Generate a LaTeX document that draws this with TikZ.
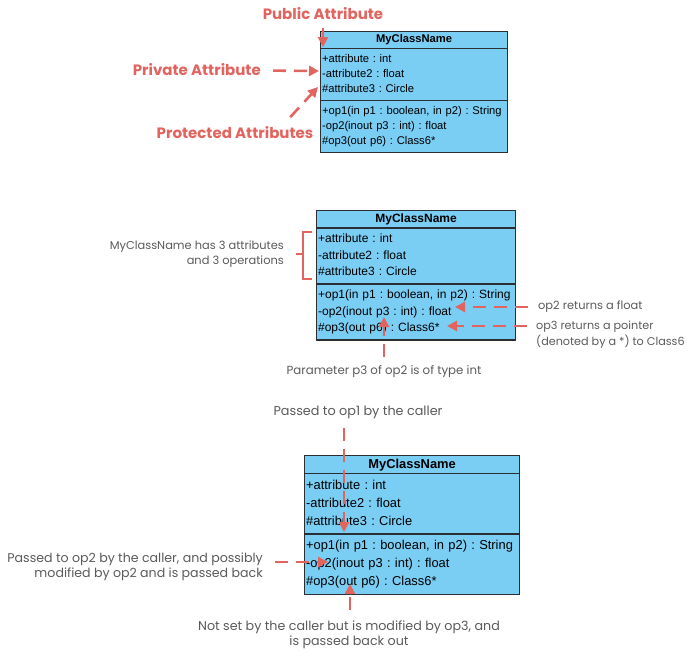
\documentclass[tikz,border=0pt]{standalone}
\usepackage{fontspec}
\setmainfont{Poppins}
\newfontfamily\umlfont{Liberation Sans}
\usetikzlibrary{arrows.meta, positioning, shapes.multipart, calc}
\definecolor{classfill}{HTML}{7ACDF3}
\definecolor{classline}{HTML}{2A2F33}
\definecolor{notered}{HTML}{E1645F}
\definecolor{notegray}{HTML}{5A5A5A}
\newcommand{\classhead}{\hbox to\hsize{\hss\textbf{MyClassName}\hss}}

\begin{document}
\begin{tikzpicture}[
  x=1pt, y=-1pt,
  umlclass/.style={draw=classline, fill=classfill, line width=1.2pt,
    rectangle split, rectangle split parts=3, anchor=north west,
    align=left, inner xsep=1.5pt, inner ysep=2.5pt},
  heading/.style={text=notered, font=\bfseries\fontsize{15}{18}\selectfont, inner sep=0pt},
  remark/.style={text=notegray, inner sep=0pt},
  pointer/.style={notered, line width=2.6pt, dash pattern=on 13pt off 8pt,
    -{Triangle[length=10pt,width=10pt]}}
]
\useasboundingbox (0,0) rectangle (697,653);

% visibility
\node[umlclass, text width=184pt, font=\umlfont\fontsize{11.2}{15.3}\selectfont\frenchspacing] (clsA) at (320,31)
  {\classhead
   \nodepart{two}\strut+attribute : int\\-attribute2 : float\\\#attribute3 : Circle\strut
   \nodepart{three}\strut+op1(in p1 : boolean, in p2) : String\\-op2(inout p3 : int) : float\\\#op3(out p6) : Class6*\strut\par\vspace{4pt}};
\node[heading] (pubA) at (323,14) {Public Attribute};
\node[heading, anchor=east] (privA) at (261,70) {Private Attribute};
\node[heading] (protA) at (235,133) {Protected Attributes};
\coordinate (pubTip) at (323,47);
\coordinate (privTip) at (319,71);
\coordinate (protTip) at (318,87);
\draw[pointer, solid, shorten <=7.5pt] (pubA) -- (pubTip);
\draw[pointer, shorten <=12pt] (privA) -- (privTip);
\draw[pointer, shorten <=13pt] ([xshift=46.4pt]protA.north) -- (protTip);

% operations
\node[umlclass, text width=196pt, font=\umlfont\fontsize{12}{16.6}\selectfont\frenchspacing] (clsB) at (316,210)
  {\classhead
   \nodepart{two}\strut+attribute : int\\-attribute2 : float\\\#attribute3 : Circle\strut
   \nodepart{three}\strut+op1(in p1 : boolean, in p2) : String\\-op2(inout p3 : int) : float\\\#op3(out p6) : Class6*\strut\par\vspace{4.5pt}};
\draw[notered, line width=2.6pt] ($(clsB.north west)+(-4,22)$) -- ++(-9,0) -- ++(0,47) -- ++(9,0)
  ($(clsB.north west)+(-13,44)$) -- ++(-7,0);
\node[remark, anchor=east, align=right, font=\fontsize{11.4}{15}\selectfont] (sumB) at (284,254.5)
  {MyClassName has 3 attributes\\and 3 operations};
\node[remark, anchor=west, font=\fontsize{11.4}{15}\selectfont] (retB) at (538,307) {op2 returns a float};
\node[remark, anchor=north west, align=left, font=\fontsize{11.2}{16}\selectfont] (ptrB) at (536,321)
  {op3 returns a pointer\\(denoted by a *) to Class6};
\node[remark, font=\fontsize{11.8}{15}\selectfont] (parB) at (384,372) {Parameter p3 of op2 is of type int};
\coordinate (op2B) at (455,307);
\coordinate (op3B) at (447,326);
\coordinate (p3B) at (384,317);
\draw[pointer, shorten <=10pt] (retB) -- (op2B);
\draw[pointer, shorten <=9pt] (op3B -| ptrB.west) -- (op3B);
\draw[pointer, shorten <=9pt] (parB) -- (p3B);

% parameters
\node[umlclass, text width=212pt, font=\umlfont\fontsize{12.9}{18}\selectfont\frenchspacing] (clsC) at (304,455)
  {\classhead
   \nodepart{two}\strut+attribute : int\\-attribute2 : float\\\#attribute3 : Circle\strut
   \nodepart{three}\strut+op1(in p1 : boolean, in p2) : String\\-op2(inout p3 : int) : float\\\#op3(out p6) : Class6*\strut\par\vspace{4pt}};
\node[remark, font=\fontsize{12.8}{15}\selectfont] (callerC) at (358,412) {Passed to op1 by the caller};
\node[remark, anchor=east, align=right, font=\fontsize{12.6}{15.3}\selectfont] (inoutC) at (263,566.5)
  {Passed to op2 by the caller, and possibly\\modified by op2 and is passed back};
\node[remark, align=center, font=\fontsize{12.7}{14.5}\selectfont] (outC) at (349,635)
  {Not set by the caller but is modified by op3, and\\is passed back out};
\coordinate (p1C) at (344,532);
\coordinate (p3C) at (328,562);
\coordinate (p6C) at (350,584);
\draw[pointer, shorten <=9pt] (callerC.south -| p1C) -- (p1C);
\draw[pointer, shorten <=12pt] (inoutC.east |- p3C) -- (p3C);
\draw[pointer, shorten <=11pt] (outC.north -| p6C) -- (p6C);
\end{tikzpicture}
\end{document}
